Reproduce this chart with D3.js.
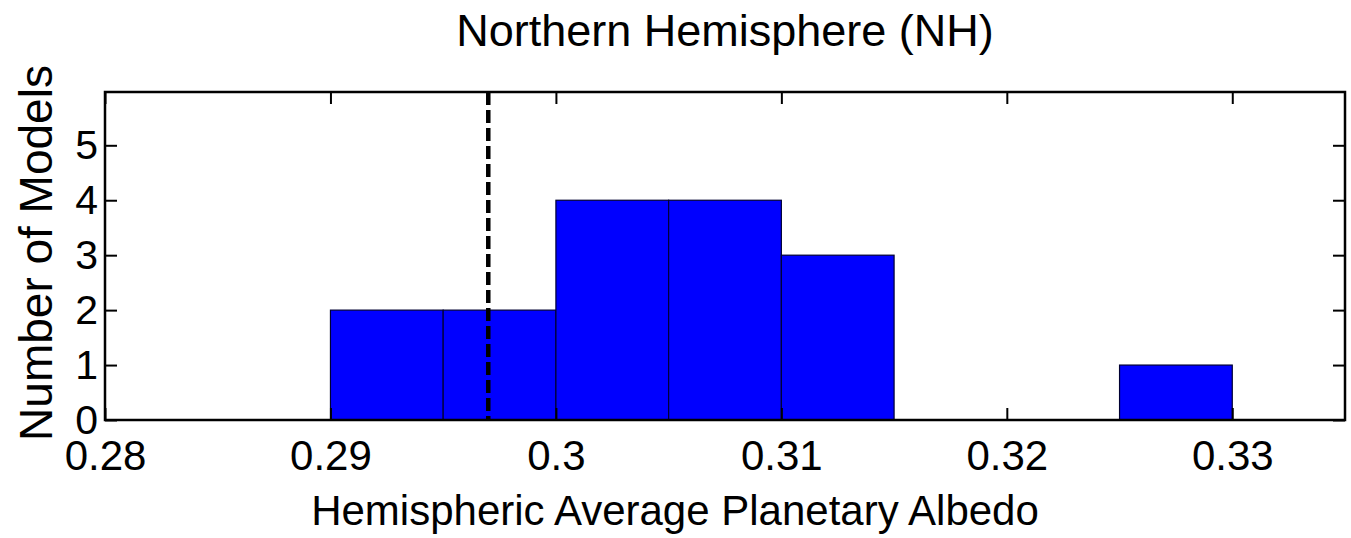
<!DOCTYPE html>
<html>
<head>
<meta charset="utf-8">
<script src="https://cdn.jsdelivr.net/npm/d3@7"></script>
<style>
  html, body { margin: 0; padding: 0; background: #fff; }
  svg text { font-family: "Liberation Sans", Arial, Helvetica, sans-serif; fill: #000; }
</style>
</head>
<body>
<svg id="chart" width="1351" height="538"></svg>
<script>
// Histogram bins: left edge, right edge, count of models
const binStart = [0.290, 0.295, 0.300, 0.305, 0.310, 0.325];
const binEnd   = [0.295, 0.300, 0.305, 0.310, 0.315, 0.330];
const counts   = [2, 2, 4, 4, 3, 1];

// Observed reference albedo (dashed line)
const observed = 0.297;

// Axis ticks
const xTicks = [0.28, 0.29, 0.30, 0.31, 0.32, 0.33];
const xTickLabels = ["0.28", "0.29", "0.3", "0.31", "0.32", "0.33"];
const yTicks = [0, 1, 2, 3, 4, 5];

const titleText = "Northern Hemisphere (NH)";
const xLabel = "Hemispheric Average Planetary Albedo";
const yLabel = "Number of Models";

const svg = d3.select("#chart");
const plotLeft = 105, plotRight = 1345, plotTop = 92, plotBottom = 420;

const x = d3.scaleLinear().domain([0.28, 0.335]).range([plotLeft, plotRight]);
const y = d3.scaleLinear().domain([0, 5.97]).range([plotBottom, plotTop]);

const bins = counts.map((c, i) => ({ x0: binStart[i], x1: binEnd[i], n: c }));

// Bars
svg.append("g")
  .selectAll("rect")
  .data(bins)
  .join("rect")
  .attr("x", d => x(d.x0))
  .attr("y", d => y(d.n))
  .attr("width", d => x(d.x1) - x(d.x0))
  .attr("height", d => y(0) - y(d.n))
  .attr("fill", "#0000ff")
  .attr("stroke", "#000033")
  .attr("stroke-width", 1.2);

// Dashed reference line
svg.append("line")
  .attr("x1", x(observed)).attr("x2", x(observed))
  .attr("y1", plotTop).attr("y2", plotBottom)
  .attr("stroke", "#000")
  .attr("stroke-width", 4.5)
  .attr("stroke-dasharray", "13,5");

// Inward ticks on all four sides
const tickLen = 12;
const xBottom = d3.axisBottom(x).tickValues(xTicks).tickSize(-tickLen).tickFormat((d, i) => xTickLabels[i]).tickPadding(20);
const xTop = d3.axisTop(x).tickValues(xTicks).tickSize(-tickLen).tickFormat("");
const yLeft = d3.axisLeft(y).tickValues(yTicks).tickSize(-tickLen).tickFormat(d3.format("d")).tickPadding(7);
const yRight = d3.axisRight(y).tickValues(yTicks).tickSize(-tickLen).tickFormat("");

function styleAxis(g, size) {
  g.select(".domain").remove();
  g.selectAll(".tick line").attr("stroke", "#000").attr("stroke-width", 2);
  g.selectAll(".tick text").attr("font-size", size).attr("fill", "#000")
    .style("font-family", '"Liberation Sans", Arial, sans-serif');
}

svg.append("g").attr("transform", `translate(0,${plotBottom})`).call(xBottom).call(styleAxis, 42);
svg.append("g").attr("transform", `translate(0,${plotTop})`).call(xTop).call(styleAxis, 42);
svg.append("g").attr("transform", `translate(${plotLeft},0)`).call(yLeft).call(styleAxis, 41);
svg.append("g").attr("transform", `translate(${plotRight},0)`).call(yRight).call(styleAxis, 42);

// Frame
svg.append("rect")
  .attr("x", plotLeft).attr("y", plotTop)
  .attr("width", plotRight - plotLeft).attr("height", plotBottom - plotTop)
  .attr("fill", "none").attr("stroke", "#000").attr("stroke-width", 2.5);

// Title
svg.append("text")
  .attr("x", 725).attr("y", 46)
  .attr("text-anchor", "middle")
  .attr("font-size", 45)
  .text(titleText);

// X axis label
svg.append("text")
  .attr("x", 675).attr("y", 525)
  .attr("text-anchor", "middle")
  .attr("font-size", 42)
  .text(xLabel);

// Y axis label
svg.append("text")
  .attr("transform", `translate(52,253) rotate(-90)`)
  .attr("text-anchor", "middle")
  .attr("font-size", 46)
  .text(yLabel);
</script>
</body>
</html>
